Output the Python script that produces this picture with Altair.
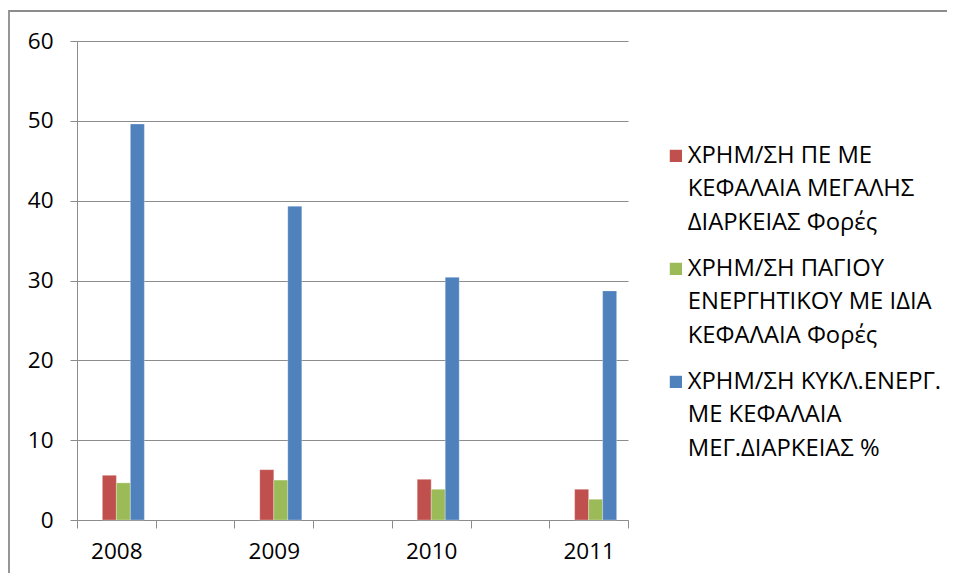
import altair as alt
import pandas as pd

years = ["2008", "2009", "2010", "2011"]
# Excel category axis had blank slots between the years
categories = ["2008", "_b1", "2009", "_b2", "2010", "_b3", "2011"]
series = [
    "ΧΡΗΜ/ΣΗ ΠΕ ΜΕ|ΚΕΦΑΛΑΙΑ ΜΕΓΑΛΗΣ|ΔΙΑΡΚΕΙΑΣ Φορές",
    "ΧΡΗΜ/ΣΗ ΠΑΓΙΟΥ|ΕΝΕΡΓΗΤΙΚΟΥ ΜΕ ΙΔΙΑ|ΚΕΦΑΛΑΙΑ Φορές",
    "ΧΡΗΜ/ΣΗ ΚΥΚΛ.ΕΝΕΡΓ.|ΜΕ ΚΕΦΑΛΑΙΑ|ΜΕΓ.ΔΙΑΡΚΕΙΑΣ %",
]
red_vals = [5.6, 6.3, 5.1, 3.85]
green_vals = [4.65, 5.0, 3.85, 2.6]
blue_vals = [49.6, 39.3, 30.4, 28.7]
colors = ["#C0504D", "#9BBB59", "#4F81BD"]

rows = []
for s, vals in zip(series, [red_vals, green_vals, blue_vals]):
    for y, v in zip(years, vals):
        rows.append({"year": y, "series": s, "value": v})
df = pd.DataFrame(rows)

FONT = "Open Sans"
DY = -12

bars = alt.Chart(df).mark_bar(stroke="#ffffff", strokeOpacity=0.35, strokeWidth=0.8).encode(
    x=alt.X(
        "year:N",
        sort=categories,
        scale=alt.Scale(domain=categories, paddingInner=0, paddingOuter=0),
        axis=alt.Axis(
            title=None,
            labelExpr="indexof(datum.label, '_') == 0 ? '' : datum.label",
            tickBand="extent",
            tickSize=8,
            tickColor="#8c8c8c",
            domainColor="#8c8c8c",
            labelPadding=12 - DY,
            labelFontSize=22.5,
            labelFont=FONT,
            labelColor="#000000",
            labelAngle=0,
            grid=False,
        ),
    ),
    xOffset=alt.XOffset(
        "series:N",
        scale=alt.Scale(domain=["_hidden"] + series, paddingInner=0, paddingOuter=0.81),
    ),
    y=alt.Y(
        "value:Q",
        scale=alt.Scale(domain=[0, 60], nice=False),
        axis=alt.Axis(
            title=None,
            values=[0, 10, 20, 30, 40, 50, 60],
            tickSize=7,
            tickColor="#8c8c8c",
            domainColor="#8c8c8c",
            gridColor="#8c8c8c",
            labelPadding=17,
            labelOffset=-DY,
            labelFontSize=22.5,
            labelFont=FONT,
            labelColor="#000000",
        ),
    ),
    color=alt.Color(
        "series:N",
        scale=alt.Scale(domain=series, range=colors),
        legend=alt.Legend(
            title=None,
            orient="none",
            legendX=587,
            legendY=103,
            symbolType="square",
            symbolSize=150,
            symbolStrokeWidth=0,
            labelExpr="split(datum.label, '|')",
            labelFontSize=23.8,
            labelFont=FONT,
            labelColor="#000000",
            labelLimit=0,
            labelBaseline="top",
            rowPadding=21,
            labelOffset=0,
        ),
    ),
)

frame_df = pd.DataFrame({"k": [0]})
frame = alt.Chart(frame_df).mark_rect(fill=None, stroke="#8c8c8c", strokeWidth=1.8, clip=False).encode(
    x=alt.value(-68),
    x2=alt.value(900),
    y=alt.value(-30),
    y2=alt.value(580),
)

chart = alt.layer(bars, frame).properties(
    width=551,
    height=479,
    autosize=alt.AutoSizeParams(type="none"),
    padding={"left": 69, "top": 33, "right": 319, "bottom": 53},
).configure(
    view=alt.ViewConfig(strokeWidth=0),
    axis=alt.AxisConfig(gridWidth=1, domainWidth=1),
    style={"guide-label": {"lineHeight": 33.5, "dy": DY}},
)

chart.save("out.html", embed_options={"renderer": "svg", "actions": False})
